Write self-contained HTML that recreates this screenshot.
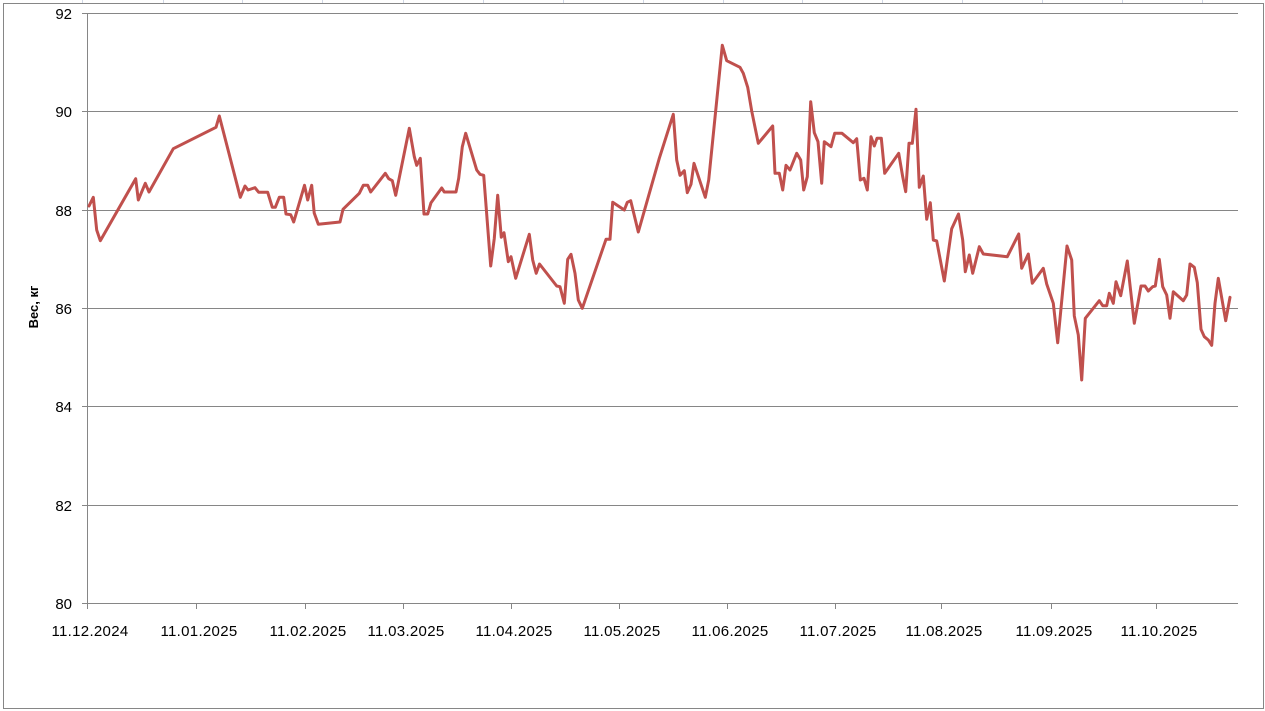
<!DOCTYPE html>
<html>
<head>
<meta charset="utf-8">
<style>
html, body { margin:0; padding:0; background:#ffffff; }
body { width:1265px; height:711px; overflow:hidden; }
svg { display:block; }
text { font-family: "Liberation Sans", "DejaVu Sans", sans-serif; fill:#000; }
</style>
</head>
<body>
<svg width="1265" height="711" viewBox="0 0 1265 711" xmlns="http://www.w3.org/2000/svg">
<rect x="0" y="0" width="1265" height="711" fill="#ffffff"/>
<g stroke="#d0d7e5" stroke-width="1">
<line x1="82.5" y1="0" x2="82.5" y2="3"/>
<line x1="163.5" y1="0" x2="163.5" y2="3"/>
<line x1="242.5" y1="0" x2="242.5" y2="3"/>
<line x1="322.5" y1="0" x2="322.5" y2="3"/>
<line x1="403.5" y1="0" x2="403.5" y2="3"/>
<line x1="483.5" y1="0" x2="483.5" y2="3"/>
<line x1="563.5" y1="0" x2="563.5" y2="3"/>
<line x1="643.5" y1="0" x2="643.5" y2="3"/>
<line x1="723.5" y1="0" x2="723.5" y2="3"/>
<line x1="802.5" y1="0" x2="802.5" y2="3"/>
<line x1="882.5" y1="0" x2="882.5" y2="3"/>
<line x1="962.5" y1="0" x2="962.5" y2="3"/>
<line x1="1042.5" y1="0" x2="1042.5" y2="3"/>
<line x1="1122.5" y1="0" x2="1122.5" y2="3"/>
<line x1="1202.5" y1="0" x2="1202.5" y2="3"/>
</g>
<rect x="3.5" y="3.5" width="1260" height="705" fill="#ffffff" stroke="#868686" stroke-width="1"/>
<g stroke="#868686" stroke-width="1" shape-rendering="crispEdges">
<line x1="82" y1="13.5" x2="1238" y2="13.5"/>
<line x1="82" y1="111.5" x2="1238" y2="111.5"/>
<line x1="82" y1="210.5" x2="1238" y2="210.5"/>
<line x1="82" y1="308.5" x2="1238" y2="308.5"/>
<line x1="82" y1="406.5" x2="1238" y2="406.5"/>
<line x1="82" y1="505.5" x2="1238" y2="505.5"/>
<line x1="82" y1="603.5" x2="1238" y2="603.5"/>
<line x1="87.5" y1="13" x2="87.5" y2="604"/>
<line x1="87.5" y1="603" x2="87.5" y2="609"/>
<line x1="196.5" y1="603" x2="196.5" y2="609"/>
<line x1="305.5" y1="603" x2="305.5" y2="609"/>
<line x1="403.5" y1="603" x2="403.5" y2="609"/>
<line x1="511.5" y1="603" x2="511.5" y2="609"/>
<line x1="619.5" y1="603" x2="619.5" y2="609"/>
<line x1="727.5" y1="603" x2="727.5" y2="609"/>
<line x1="835.5" y1="603" x2="835.5" y2="609"/>
<line x1="941.5" y1="603" x2="941.5" y2="609"/>
<line x1="1051.5" y1="603" x2="1051.5" y2="609"/>
<line x1="1156.5" y1="603" x2="1156.5" y2="609"/>
</g>
<g font-size="15" text-anchor="end">
<text x="72" y="19">92</text>
<text x="72" y="117">90</text>
<text x="72" y="216">88</text>
<text x="72" y="314">86</text>
<text x="72" y="412">84</text>
<text x="72" y="511">82</text>
<text x="72" y="609">80</text>
</g>
<g font-size="15" text-anchor="middle" letter-spacing="0.3">
<text x="90" y="636">11.12.2024</text>
<text x="199" y="636">11.01.2025</text>
<text x="308" y="636">11.02.2025</text>
<text x="406" y="636">11.03.2025</text>
<text x="514" y="636">11.04.2025</text>
<text x="622" y="636">11.05.2025</text>
<text x="730" y="636">11.06.2025</text>
<text x="838" y="636">11.07.2025</text>
<text x="944" y="636">11.08.2025</text>
<text x="1054" y="636">11.09.2025</text>
<text x="1159" y="636">11.10.2025</text>
</g>
<text x="0" y="0" font-size="13" font-weight="bold" text-anchor="middle" transform="translate(38,307) rotate(-90)">Вес, кг</text>
<polyline fill="none" stroke="#C0504D" stroke-width="3" stroke-linejoin="round" stroke-linecap="round" points="89,206 93.3,197.3 96.7,230 100.3,240.7 135.7,178.7 138.3,200 145.3,183.3 149,192 173.3,148.7 216,127.3 219.3,116 240.3,197.3 245,186 248,190 255,187.7 258.7,192.3 267.7,192.3 272.3,207.3 275.3,207.3 279.3,197.3 283.7,197.3 286,214 290.7,214.7 293.7,222 304.5,185.3 307.7,200 311.7,185.3 314.2,213 318.3,224.3 340,222 343,209.3 359.3,193.3 363.3,185.3 367.7,185.3 370.7,192 385.3,173.3 388.7,178.7 392.3,180.7 395.7,195.3 409.3,128.3 414.3,156.7 416.7,165.3 420.3,158.3 424,214 427.7,214 431,202.7 441.7,188 444.3,192 456,192 458.7,178.3 462.3,146.7 465.7,133.3 476.7,170 480,174.3 483.7,175.3 490.7,266 494.3,238.3 497.7,195.3 501.3,237.3 504,232.7 508.3,261.7 511,256.7 515.7,278.3 529.3,234.3 532.7,260 536.2,273.3 539.5,264 556.7,286 560,286.7 564.3,303.3 567.7,259.3 571,254.3 575,273.3 578.3,300 582.3,308.3 606,239.3 610,239.3 612.7,202.3 624.3,210 627.3,202.3 630.7,200.7 638.3,232 659.3,158.3 673.3,114.3 676.7,160 680,175.3 684.3,170.7 687.3,192.7 691,184.3 694,163.3 705.3,197.3 708.7,180 722.3,45.3 726.7,60.7 740,67.3 743.3,73.3 747.7,87.3 751.7,111 758.3,143.3 772.7,126 775,173.3 779.3,173.3 782.7,190 786,165.3 790,170 796.7,153.3 800.7,160 803.7,190 807.3,176.7 810.7,101.7 814.3,132.7 818,141.7 821.7,183.3 824.3,141.7 831,146.7 834.7,133.3 842,133.3 853.3,142.7 856.7,138.7 860.3,180 864,178.3 867.3,190 871,136.7 874.3,146 877,138.3 881.3,138.3 884.7,173.3 898.7,153.3 902.7,176.7 905.7,191.7 909,143.3 912.3,143.3 916,109.3 919.3,187.3 923.3,176 926.7,219.3 930.3,202.7 933.3,240 936.7,241 944.3,281 951.7,228.7 958.5,214 962.7,240 965.3,271.7 969.3,255 972.7,273.3 979.3,246.7 983.3,254 1007.3,256.7 1018.7,234 1021.7,268.3 1028.3,254 1032.3,283.3 1043.3,268.3 1046.7,284 1053.3,303.3 1057.7,342.7 1067,246 1071.7,260 1074.3,316 1078.3,335 1081.7,380 1085.3,318.3 1099.3,300.7 1102.7,305.7 1106.7,305.7 1109.3,293.3 1113.3,303.3 1116,281.7 1120.7,295.7 1127.3,261 1134.3,323.3 1141,286 1145,286 1148.3,291 1152.7,286.7 1155.3,286 1159.3,259.3 1162.7,286.7 1166.7,295 1170,318.3 1173.3,291.7 1183.3,300.7 1186.7,295 1190,264 1194.3,267.3 1197.3,282.7 1201,329.3 1204.3,336.7 1208.3,340 1211.7,345.3 1215,303.3 1218.3,278.3 1225.7,320.7 1230,297.3"/>
</svg>
</body>
</html>
